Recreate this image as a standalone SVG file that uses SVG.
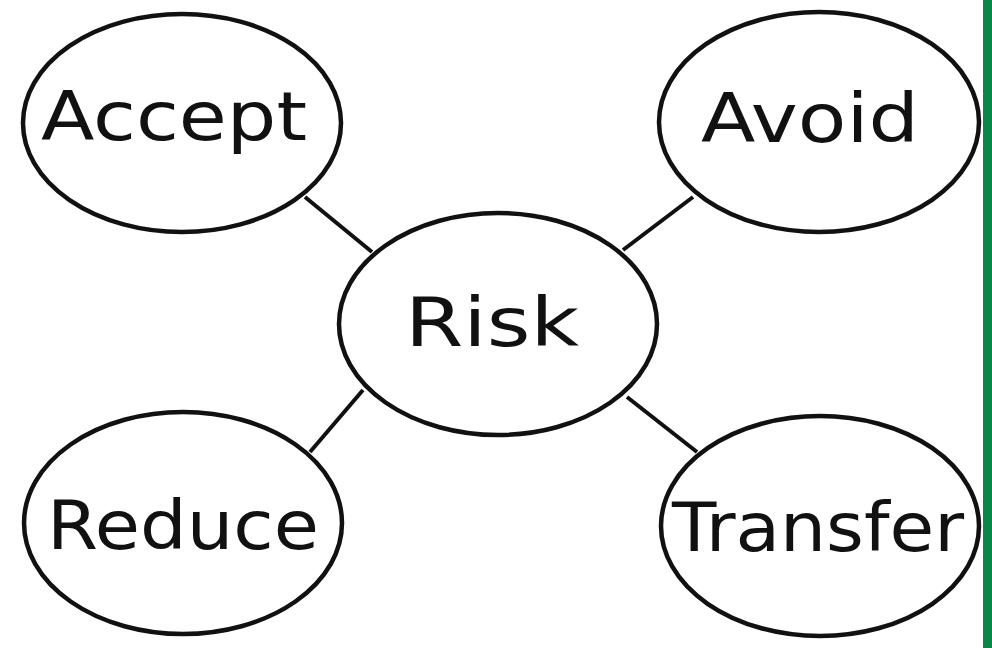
<svg xmlns="http://www.w3.org/2000/svg" width="992" height="648" viewBox="0 0 992 648">
<style>
.node ellipse{fill:#fff;stroke:#111;stroke-width:4.5}
.node text{font-family:"DejaVu Sans","Liberation Sans",sans-serif;font-size:68px;fill:#111;text-anchor:middle}
.edges line{stroke:#111;stroke-width:4}
</style>
<rect width="992" height="648" fill="#fff"/>
<rect x="983" y="0" width="9" height="648" fill="#078846"/>
<g class="edges">
<line x1="305" y1="197" x2="372" y2="252"/>
<line x1="693" y1="197" x2="623" y2="250"/>
<line x1="310" y1="452" x2="363" y2="390"/>
<line x1="627" y1="397" x2="697" y2="452"/>
</g>
<g id="accept" class="node"><ellipse cx="182" cy="123" rx="159" ry="109"/><text x="174" y="140" textLength="266" lengthAdjust="spacingAndGlyphs">Accept</text></g>
<g id="avoid" class="node"><ellipse cx="819" cy="122" rx="160" ry="110"/><text x="810" y="142" textLength="218" lengthAdjust="spacingAndGlyphs">Avoid</text></g>
<g id="risk" class="node"><ellipse cx="498" cy="324" rx="159" ry="111"/><text x="492" y="346" textLength="174" lengthAdjust="spacingAndGlyphs">Risk</text></g>
<g id="reduce" class="node"><ellipse cx="183" cy="523" rx="159" ry="111"/><text x="183" y="549" textLength="272" lengthAdjust="spacingAndGlyphs">Reduce</text></g>
<g id="transfer" class="node"><ellipse cx="820" cy="526" rx="159" ry="110"/><text x="818" y="551" textLength="292" lengthAdjust="spacingAndGlyphs">Transfer</text></g>
</svg>
